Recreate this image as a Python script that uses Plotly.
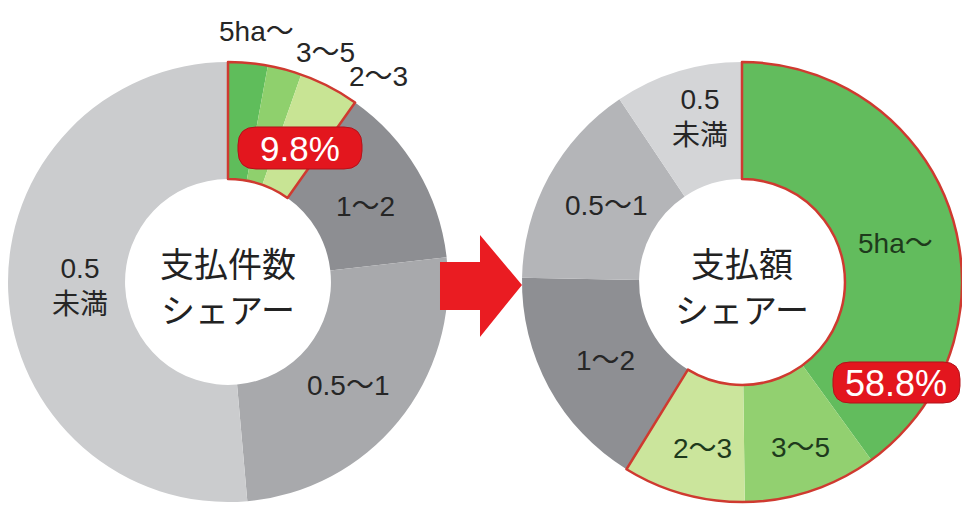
import plotly.graph_objects as go

# Farm size classes (ha), ordered clockwise from 12 o'clock
classes = ["5ha〜", "3〜5", "2〜3", "1〜2", "0.5〜1", "0.5未満"]

# Share of number of payments (%)
count_share = [2.9, 2.5, 4.4, 13.4, 25.4, 51.4]
# Share of payment amount (%)
amount_share = [40.0, 9.8, 9.0, 16.5, 15.3, 9.4]

# Highlighted group (classes of 2ha and above) and its stated totals
group_size = 3
count_group_label = "9.8%"
amount_group_label = "58.8%"

# Centre titles, one entry per line
count_title = ["支払件数", "シェアー"]
amount_title = ["支払額", "シェアー"]

W, H = 962, 514


def px(x):
    return x / W


def py(y):
    return 1 - y / H


green_gray_left = ["#5fbd5b", "#8fd06d", "#c8e494", "#8d8e92", "#a8a9ac", "#cbccce"]
green_gray_right = ["#62bc5d", "#92d070", "#cbe59c", "#8e8f93", "#b4b5b8", "#d4d5d7"]
RED = "#e3161e"
OUTLINE = "#cf3a30"

R = 220
HOLE = 0.468
centers = {"left": (228, 282), "right": (742, 282)}


def domain(c):
    cx, cy = c
    return dict(x=[px(cx - R), px(cx + R)], y=[py(cy + R), py(cy - R)])


fig = go.Figure()


def add_donut(values, colors, c):
    fig.add_trace(go.Pie(
        labels=classes, values=values, sort=False, direction="clockwise",
        rotation=0, hole=HOLE, domain=domain(c),
        marker=dict(colors=colors, line=dict(width=0)),
        textinfo="none", hoverinfo="label+value", showlegend=False,
    ))
    # outline around the highlighted group
    grp = sum(values[:group_size])
    fig.add_trace(go.Pie(
        labels=["group", "rest"], values=[grp, sum(values) - grp], sort=False,
        direction="clockwise", rotation=0, hole=HOLE, domain=domain(c),
        marker=dict(colors=["rgba(0,0,0,0)", "rgba(0,0,0,0)"],
                    line=dict(color=[OUTLINE, "rgba(0,0,0,0)"], width=2.5)),
        textinfo="none", hoverinfo="skip", showlegend=False,
    ))


add_donut(count_share, green_gray_left, centers["left"])
add_donut(amount_share, green_gray_right, centers["right"])

shapes = []

# red arrow between the two donuts
arrow = [(440, 262), (480, 262), (480, 235), (522, 285), (480, 337), (480, 310), (440, 310)]
path = "M " + " L ".join(f"{px(x):.5f},{py(y):.5f}" for x, y in arrow) + " Z"
shapes.append(dict(type="path", xref="paper", yref="paper", path=path,
                   fillcolor="#ea1c22", line=dict(width=0), layer="above"))


def pill(x0, y0, x1, y1, r):
    pts = [
        f"M {px(x0 + r):.5f},{py(y0):.5f}",
        f"L {px(x1 - r):.5f},{py(y0):.5f}",
        f"Q {px(x1):.5f},{py(y0):.5f} {px(x1):.5f},{py(y0 + r):.5f}",
        f"L {px(x1):.5f},{py(y1 - r):.5f}",
        f"Q {px(x1):.5f},{py(y1):.5f} {px(x1 - r):.5f},{py(y1):.5f}",
        f"L {px(x0 + r):.5f},{py(y1):.5f}",
        f"Q {px(x0):.5f},{py(y1):.5f} {px(x0):.5f},{py(y1 - r):.5f}",
        f"L {px(x0):.5f},{py(y0 + r):.5f}",
        f"Q {px(x0):.5f},{py(y0):.5f} {px(x0 + r):.5f},{py(y0):.5f}",
        "Z",
    ]
    return dict(type="path", xref="paper", yref="paper", path=" ".join(pts),
                fillcolor=RED, line=dict(color="#b3121a", width=1), layer="above")


shapes.append(pill(238, 127, 362, 169, 18))
shapes.append(pill(833, 362, 960, 403, 17))

LABEL_FONT = "Liberation Sans, Noto Sans CJK JP"
CJK_FONT = "Noto Sans CJK JP"

annotations = []


def label(x, y, text, size=28, color="#262626", family=LABEL_FONT):
    annotations.append(dict(x=px(x), y=py(y), xref="paper", yref="paper",
                            text=text, showarrow=False, xanchor="center",
                            yanchor="middle", font=dict(size=size, color=color,
                                                        family=family)))


# left donut labels
left_pos = {"5ha〜": (256, 31), "3〜5": (325, 53), "2〜3": (378, 76),
            "1〜2": (365, 206), "0.5〜1": (348, 385), "0.5未満": (80, 286)}
for name in classes:
    x, y = left_pos[name]
    text = "0.5<br>未満" if name == "0.5未満" else name
    label(x, y, text)

# right donut labels
right_pos = {"5ha〜": (895, 243), "3〜5": (800, 447), "2〜3": (702, 448),
             "1〜2": (605, 360), "0.5〜1": (606, 205), "0.5未満": (700, 118)}
for name in classes:
    x, y = right_pos[name]
    text = "0.5<br>未満" if name == "0.5未満" else name
    col = "#1e3a1c" if name in classes[:group_size] else "#262626"
    label(x, y, text, color=col)

# group totals
label(300, 148, count_group_label, size=35, color="white", family="Liberation Sans")
label(896, 383, amount_group_label, size=36, color="white", family="Liberation Sans")

# centre titles, one annotation per line
for (cx, _), lines in ((centers["left"], count_title), (centers["right"], amount_title)):
    for i, line in enumerate(lines):
        label(cx, 262 + 46 * i, line, size=34, color="#222222", family=CJK_FONT)

fig.update_layout(
    width=W, height=H, margin=dict(l=0, r=0, t=0, b=0),
    paper_bgcolor="white", plot_bgcolor="white",
    shapes=shapes, annotations=annotations, showlegend=False,
)

fig.write_html("out.html")
